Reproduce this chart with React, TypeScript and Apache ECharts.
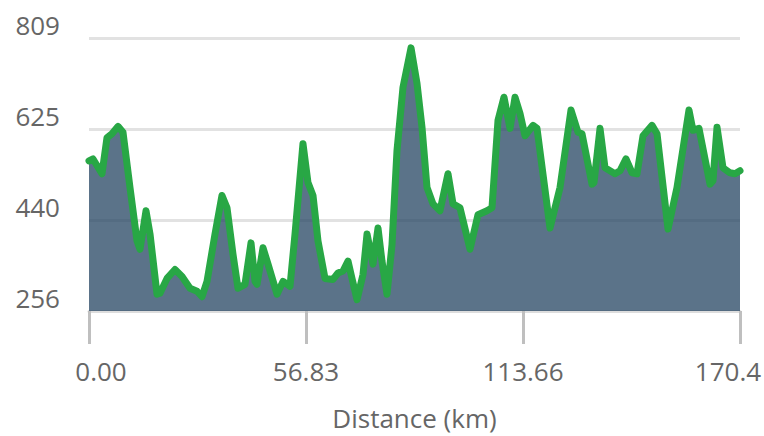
import React, { useEffect, useRef } from "react";
import * as echarts from "echarts";

const distancesKm = [
  0, 1.05, 3.4, 4.71, 6.02, 7.59, 8.9, 10.74, 12.57, 13.36, 14.93, 15.98, 17.81, 18.59, 20.43,
  22.52, 24.36, 26.45, 28.29, 29.6, 30.91, 33.0, 34.83, 36.14, 37.71, 39.02, 40.85, 42.43, 43.47,
  44.0, 45.57, 46.88, 49.24, 50.81, 52.64, 53.95, 56.04, 57.35, 58.66, 59.97, 61.81, 63.9, 65.21,
  66.52, 67.83, 68.88, 70.19, 71.76, 72.81, 74.38, 75.69, 76.73, 78.04, 79.35, 80.66, 82.23, 84.33,
  85.9, 87.21, 88.52, 90.09, 91.92, 94.02, 95.33, 97.16, 99.78, 101.87, 104.23, 105.54, 107.11,
  108.68, 110.26, 111.57, 112.88, 114.18, 116.28, 117.33, 120.73, 123.35, 126.23, 128.06, 129.11,
  131.73, 132.25, 133.83, 135.14, 137.75, 139.06, 140.63, 142.21, 143.52, 145.09, 147.45, 148.76,
  151.64, 153.99, 157.13, 158.18, 159.75, 162.63, 163.42, 164.47, 166.04, 167.87, 169.18, 170.49,
];

const elevationsM = [
  560, 564, 534, 607, 615, 630, 618, 506, 398, 381, 459, 412, 290, 292, 322, 340, 326, 302, 296,
  285, 316, 412, 490, 465, 371, 302, 310, 394, 316, 310, 384, 351, 290, 316, 306, 412, 595, 516,
  490, 398, 322, 320, 333, 337, 357, 322, 279, 330, 412, 351, 424, 357, 290, 390, 581, 709, 789,
  717, 628, 506, 473, 459, 534, 473, 465, 381, 451, 459, 465, 642, 689, 626, 689, 656, 611, 632,
  626, 424, 506, 663, 618, 615, 513, 516, 626, 546, 534, 540, 564, 536, 534, 611, 632, 615, 422,
  506, 663, 622, 626, 513, 520, 628, 546, 536, 534, 540,
];

const xTickLabels = ["0.00", "56.83", "113.66", "170.4"];
const yTickLabels = ["256", "440", "625", "809"];
const xMin = 0;
const xMax = 170.49;
const xInterval = 56.83;
const yMin = 256;
const yMax = 809;

const FONT = "'Open Sans', 'Noto Sans', sans-serif";
const TEXT_COLOR = "#666666";

export default function App() {
  const ref = useRef<HTMLDivElement>(null);

  useEffect(() => {
    if (!ref.current) return;
    const chart = echarts.init(ref.current, null, { renderer: "svg" });
    const data = distancesKm.map((d, i) => [d, elevationsM[i]]);
    const lastX = xTickLabels.length - 1;
    chart.setOption({
      animation: false,
      backgroundColor: "#ffffff",
      grid: {
        left: 89,
        right: 24,
        top: 38,
        bottom: 125,
        containLabel: false,
        outerBoundsMode: "none",
      },
      xAxis: {
        type: "value",
        min: xMin,
        max: xMax,
        interval: xInterval,
        name: "Distance (km)",
        nameLocation: "middle",
        nameGap: 94,
        nameTextStyle: { color: TEXT_COLOR, fontSize: 26, fontFamily: FONT, lineHeight: 26 },
        axisLine: { show: true, lineStyle: { color: "#dddddd", width: 3 } },
        axisTick: { show: true, length: 33, lineStyle: { color: "#bfbfbf", width: 3 } },
        splitLine: { show: false },
        axisLabel: {
          margin: 47,
          color: TEXT_COLOR,
          fontSize: 26,
          fontFamily: FONT,
          formatter: (_v: number, i: number) => {
            const t = xTickLabels[i] ?? "";
            if (i === 0) return "{first|" + t + "}";
            if (i === lastX) return "{last|" + t + "}";
            return t;
          },
          rich: {
            first: { padding: [0, 0, 0, 24], color: TEXT_COLOR, fontSize: 26, fontFamily: FONT },
            last: { padding: [0, 24, 0, 0], color: TEXT_COLOR, fontSize: 26, fontFamily: FONT },
          },
        },
      },
      yAxis: {
        type: "value",
        min: yMin,
        max: yMax,
        interval: (yMax - yMin) / 3,
        axisLine: { show: false },
        axisTick: { show: false },
        splitLine: { show: true, lineStyle: { color: "#e2e2e2", width: 3 } },
        axisLabel: {
          margin: 29,
          color: TEXT_COLOR,
          fontSize: 26,
          fontFamily: FONT,
          verticalAlign: "bottom",
          lineHeight: 26,
          formatter: (_v: number, i: number) => yTickLabels[i] ?? "",
        },
      },
      series: [
        {
          type: "line",
          data,
          symbol: "none",
          smooth: false,
          lineStyle: { color: "#28a745", width: 7, join: "round", cap: "round" },
          areaStyle: { color: "#244462", opacity: 0.75, origin: "start" },
        },
      ],
    });
    return () => chart.dispose();
  }, []);

  return (
    <div
      ref={ref}
      style={{ position: "fixed", left: 0, top: 0, width: 764, height: 436 }}
    />
  );
}
